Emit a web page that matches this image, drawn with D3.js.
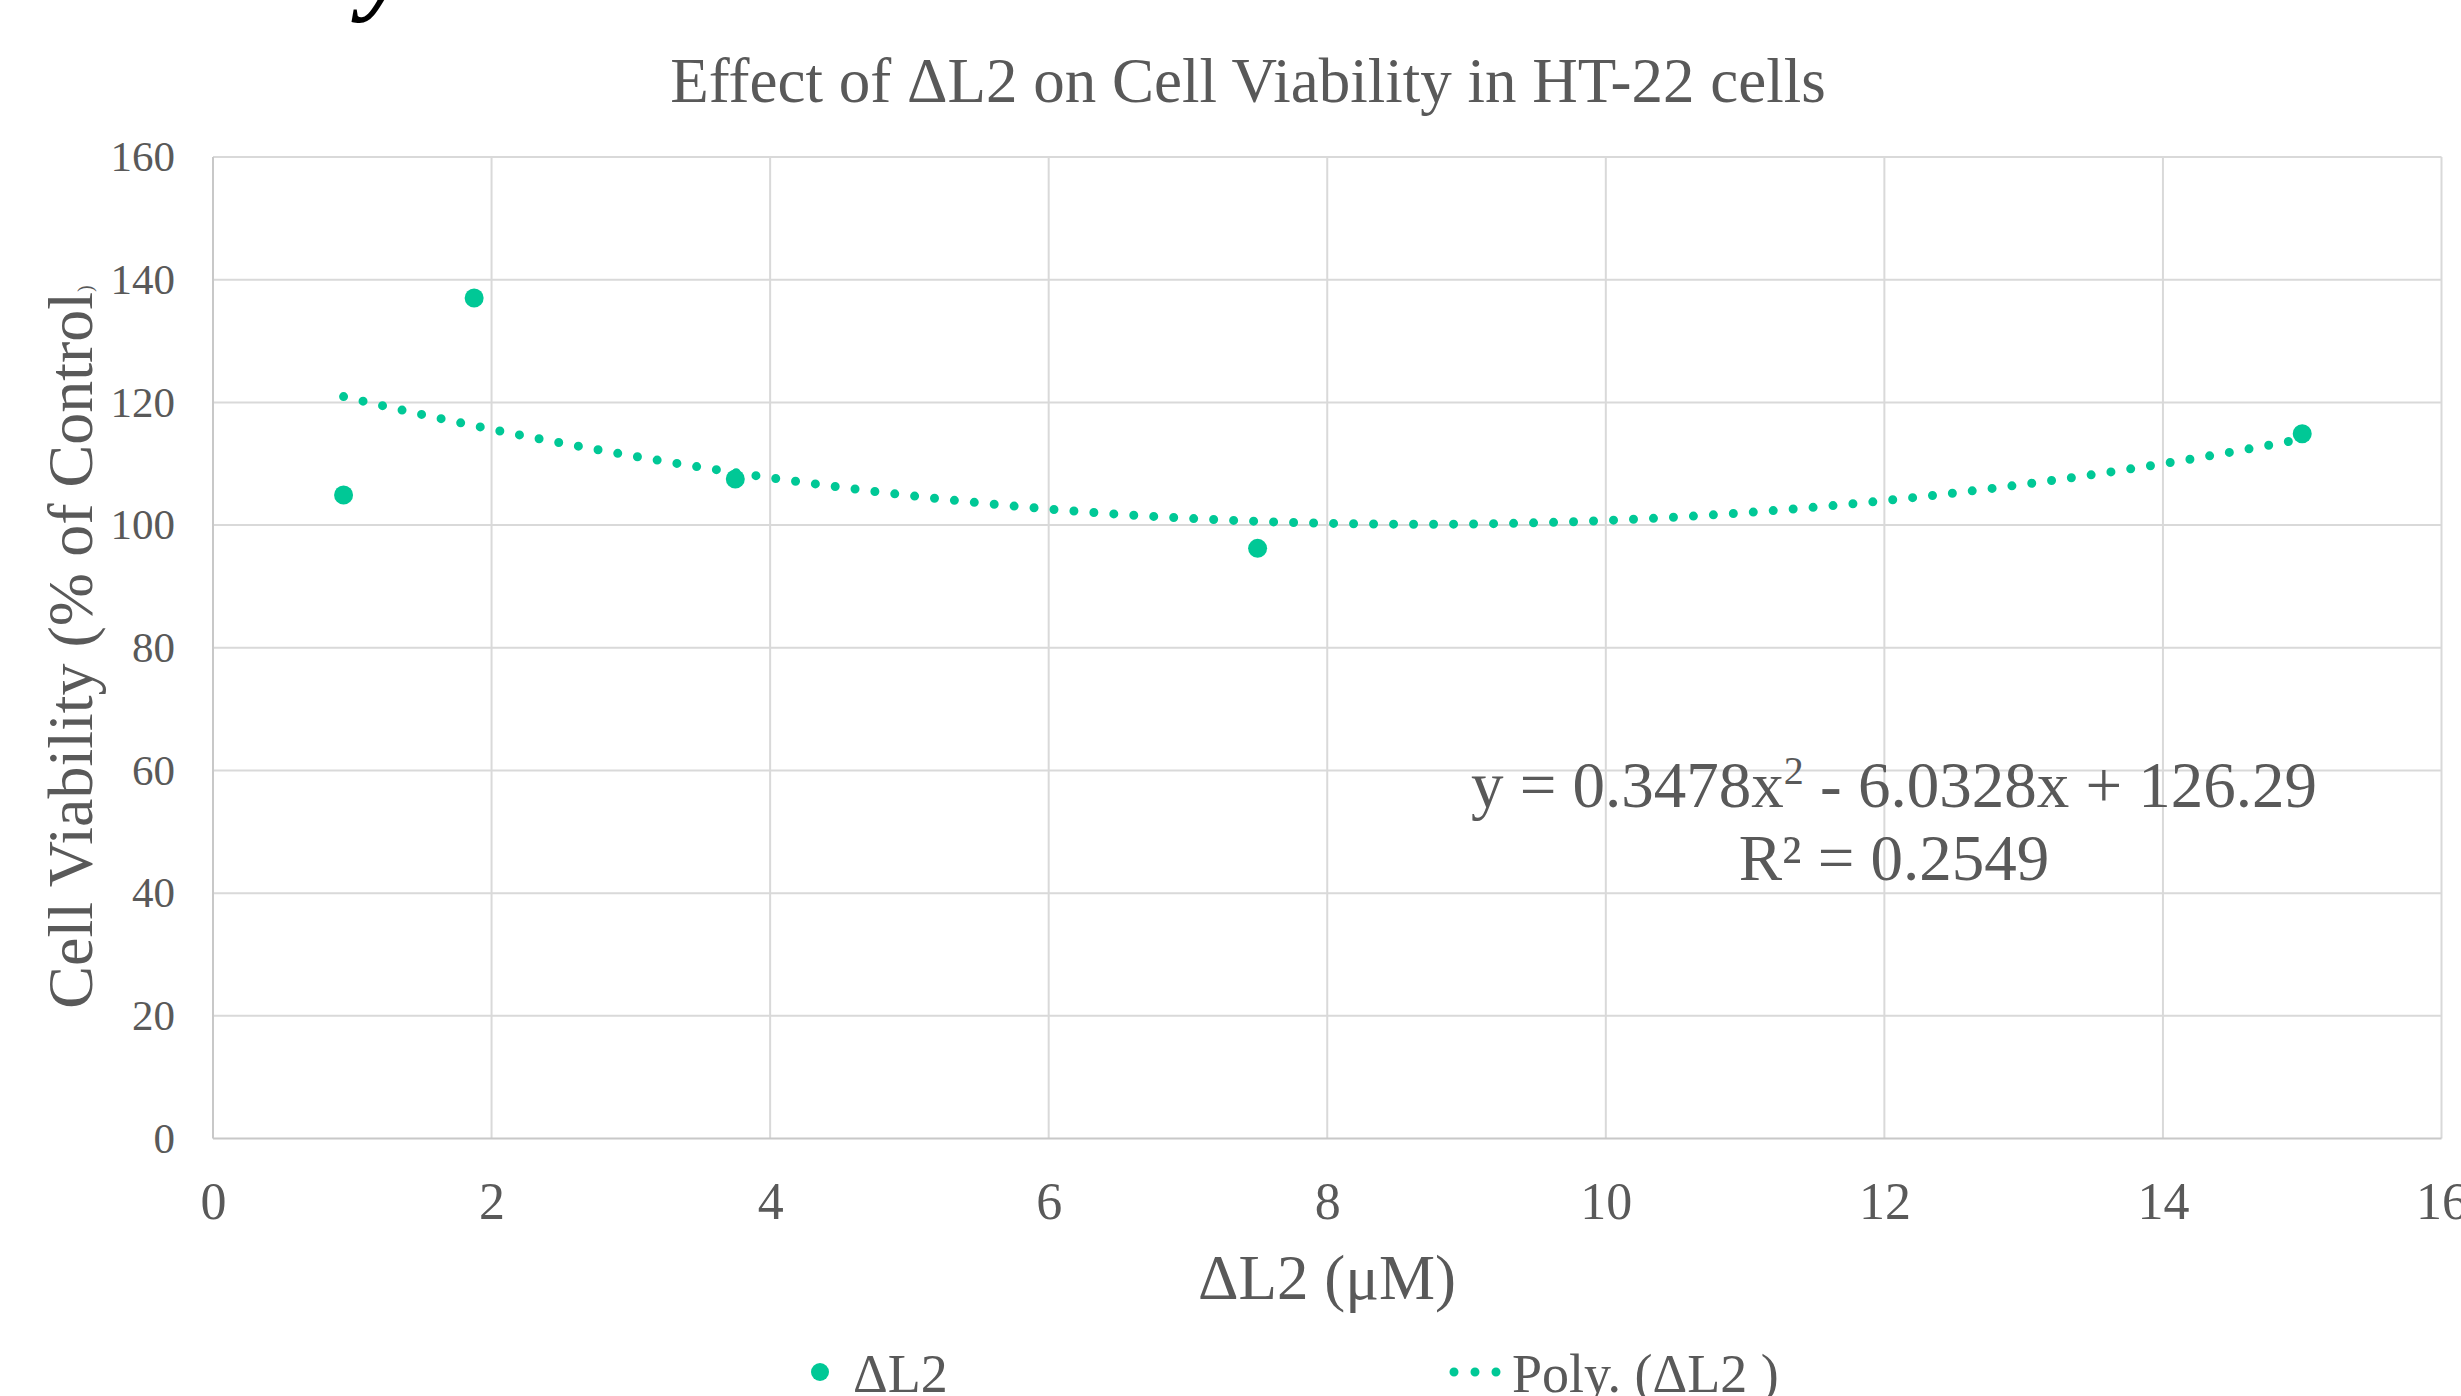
<!DOCTYPE html>
<html>
<head>
<meta charset="utf-8">
<script src="https://cdn.jsdelivr.net/npm/d3@7"></script>
<style>
  body { margin: 0; background: #fff; }
  text { font-family: "Liberation Serif", "Times New Roman", serif; fill: #595959; }
</style>
</head>
<body>
<div id="plot"></div>
<script>
// Chart data
var doses = [0.9375, 1.875, 3.75, 7.5, 15];          // ΔL2 (µM)
var viability = [104.9, 137.0, 107.5, 96.2, 114.9];  // % of control
var polyCoef = [126.29, -6.0328, 0.3478];            // trendline: c0 + c1*x + c2*x^2
var rSquared = "0.2549";
var xTicks = [0, 2, 4, 6, 8, 10, 12, 14, 16];
var yTicks = [0, 20, 40, 60, 80, 100, 120, 140, 160];

var w = 2461;
var h = 1396;
var teal = "#00c896";

var svg = d3.select("#plot")
            .append("svg")
            .attr("width", w)
            .attr("height", h);

// scales
var xScale = d3.scaleLinear().domain([0, 16]).range([213, 2441.5]);
var yScale = d3.scaleLinear().domain([0, 160]).range([1138.5, 157]);

// gridlines
svg.append("g").selectAll("line")
   .data(xTicks.slice(1))
   .enter()
   .append("line")
   .attr("x1", function(d) { return xScale(d); })
   .attr("x2", function(d) { return xScale(d); })
   .attr("y1", yScale(0))
   .attr("y2", yScale(160))
   .attr("stroke", "#d9d9d9")
   .attr("stroke-width", 2);

svg.append("g").selectAll("line")
   .data(yTicks.slice(1))
   .enter()
   .append("line")
   .attr("x1", xScale(0))
   .attr("x2", xScale(16))
   .attr("y1", function(d) { return yScale(d); })
   .attr("y2", function(d) { return yScale(d); })
   .attr("stroke", "#d9d9d9")
   .attr("stroke-width", 2);

// axes (labels only, lines drawn below)
var xAxis = d3.axisBottom(xScale).tickValues(xTicks).tickSize(0).tickPadding(44);
var yAxis = d3.axisLeft(yScale).tickValues(yTicks).tickSize(0).tickPadding(38);

var gx = svg.append("g")
   .attr("transform", "translate(0," + yScale(0) + ")")
   .call(xAxis);
gx.select(".domain").remove();
gx.selectAll("text").attr("font-size", 52).attr("font-family", null).style("fill", "#595959");

var gy = svg.append("g")
   .attr("transform", "translate(" + xScale(0) + ",0)")
   .call(yAxis);
gy.select(".domain").remove();
gy.selectAll("text").attr("font-size", 43).attr("font-family", null).style("fill", "#595959");

// axis lines
svg.append("line")
   .attr("x1", xScale(0)).attr("x2", xScale(16))
   .attr("y1", yScale(0)).attr("y2", yScale(0))
   .attr("stroke", "#c8c8c8").attr("stroke-width", 2);
svg.append("line")
   .attr("x1", xScale(0)).attr("x2", xScale(0))
   .attr("y1", yScale(0)).attr("y2", yScale(160))
   .attr("stroke", "#c8c8c8").attr("stroke-width", 2);

// polynomial trendline (dotted)
function poly(x) { return polyCoef[0] + polyCoef[1] * x + polyCoef[2] * x * x; }
var xs = d3.range(0, 201).map(function(i) {
  return doses[0] + (doses[doses.length - 1] - doses[0]) * i / 200;
});
var line = d3.line()
   .x(function(d) { return xScale(d); })
   .y(function(d) { return yScale(poly(d)); });
svg.append("path")
   .datum(xs)
   .attr("d", line)
   .attr("fill", "none")
   .attr("stroke", teal)
   .attr("stroke-width", 9)
   .attr("stroke-linecap", "round")
   .attr("stroke-dasharray", "0 20");

// data points
svg.append("g").selectAll("circle")
   .data(doses)
   .enter()
   .append("circle")
   .attr("cx", function(d) { return xScale(d); })
   .attr("cy", function(d, i) { return yScale(viability[i]); })
   .attr("r", 9.5)
   .attr("fill", teal);

// title
svg.append("text")
   .attr("x", 1248).attr("y", 102)
   .attr("text-anchor", "middle")
   .attr("font-size", 63)
   .text("Effect of ΔL2 on Cell Viability in HT-22 cells");

// clipped glyph from the heading above
svg.append("text")
   .attr("x", 362).attr("y", 0)
   .attr("font-size", 105)
   .attr("font-weight", "bold")
   .attr("font-style", "italic")
   .style("fill", "#000")
   .text("y");

// axis titles
svg.append("text")
   .attr("x", 1327).attr("y", 1299)
   .attr("text-anchor", "middle")
   .attr("font-size", 63)
   .text("ΔL2 (μM)");

var yt = svg.append("text")
   .attr("transform", "translate(92,647) rotate(-90)")
   .attr("text-anchor", "middle")
   .attr("font-size", 64);
yt.append("tspan").text("Cell Viability (% of Control");
yt.append("tspan").attr("font-size", 20).text(")");

// trendline equation
var eq = svg.append("text")
   .attr("x", 1894).attr("y", 807)
   .attr("text-anchor", "middle")
   .attr("font-size", 65);
eq.append("tspan").text("y = " + polyCoef[2] + "x");
eq.append("tspan").attr("font-size", 40).attr("dy", -23).text("2");
eq.append("tspan").attr("dy", 23).text(" - " + Math.abs(polyCoef[1]) + "x + " + polyCoef[0]);

svg.append("text")
   .attr("x", 1894).attr("y", 880)
   .attr("text-anchor", "middle")
   .attr("font-size", 65)
   .text("R² = " + rSquared);

// legend
var lg = svg.append("g");
lg.append("circle").attr("cx", 820).attr("cy", 1372).attr("r", 9).attr("fill", teal);
lg.append("text").attr("x", 853).attr("y", 1392).attr("font-size", 54).text("ΔL2");
lg.append("path")
  .attr("d", "M1454,1372H1497")
  .attr("stroke", teal)
  .attr("stroke-width", 9)
  .attr("stroke-linecap", "round")
  .attr("stroke-dasharray", "0 21");
lg.append("text").attr("x", 1512).attr("y", 1392).attr("font-size", 54).text("Poly. (ΔL2 )");
</script>
</body>
</html>
